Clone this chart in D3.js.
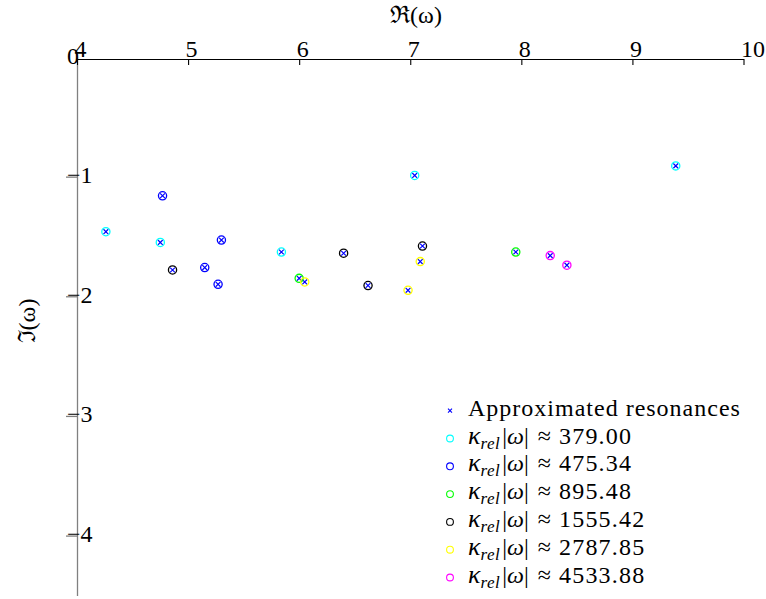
<!DOCTYPE html>
<html>
<head>
<meta charset="utf-8">
<script src="https://cdn.jsdelivr.net/npm/d3@7"></script>
<style>
  html, body { margin: 0; padding: 0; background: #fff; }
  svg { display: block; }
  text { font-family: "Liberation Serif", "DejaVu Serif", serif; fill: #000; }
</style>
</head>
<body>
<svg id="chart" width="766" height="599"></svg>
<script>
// ---- data ----
const xTicks = [4, 5, 6, 7, 8, 9, 10];
const yTicks = [0, -1, -2, -3, -4];

// Approximated resonances (blue x markers)
const approxRe = [4.26, 4.77, 4.75, 5.30, 4.86, 5.15, 5.27, 5.84, 6.00, 6.05, 6.40, 7.04, 7.11, 7.09, 6.62, 6.98, 9.39, 7.95, 8.26, 8.41];
const approxIm = [-1.46, -1.16, -1.55, -1.53, -1.78, -1.76, -1.90, -1.63, -1.85, -1.88, -1.64, -0.99, -1.58, -1.71, -1.91, -1.95, -0.91, -1.63, -1.66, -1.74];

// circle series, one per kappa value
const kappaLabels = ["379.00", "475.34", "895.48", "1555.42", "2787.85", "4533.88"];
const kappaColors = ["#00ffff", "#0000ff", "#00ff00", "#000000", "#ffff00", "#ff00ff"];
const re379 = [4.26, 4.75, 5.84, 7.04, 9.39];
const im379 = [-1.46, -1.55, -1.63, -0.99, -0.91];
const re475 = [4.77, 5.30, 5.15, 5.27];
const im475 = [-1.16, -1.53, -1.76, -1.90];
const re895 = [6.00, 7.95];
const im895 = [-1.85, -1.63];
const re1555 = [4.86, 6.40, 7.11, 6.62];
const im1555 = [-1.78, -1.64, -1.58, -1.91];
const re2787 = [6.05, 7.09, 6.98];
const im2787 = [-1.88, -1.71, -1.95];
const re4533 = [8.26, 8.41];
const im4533 = [-1.66, -1.74];

const seriesRe = [re379, re475, re895, re1555, re2787, re4533];
const seriesIm = [im379, im475, im895, im1555, im2787, im4533];

// ---- drawing ----
const FONT = '"Liberation Serif", "DejaVu Serif", serif';
const FS = 24;
const svg = d3.select("#chart");
const x = d3.scaleLinear().domain([4, 10]).range([77, 743.5]);
const y = d3.scaleLinear().domain([0, -4.5]).range([57, 595.4]);
const intFmt = d3.format("d");

// y axis (gray)
const yAx = svg.append("g").attr("transform", `translate(${x(4)},0)`)
  .call(d3.axisLeft(y).tickValues(yTicks).tickFormat(intFmt).tickSize(11).tickSizeOuter(0));
yAx.attr("font-family", FONT);
yAx.select(".domain").attr("stroke", "#808080").attr("stroke-width", 1.3);
yAx.selectAll(".tick line").attr("stroke", "#808080").attr("stroke-width", 1.3)
  .filter(d => d === 0).remove();
yAx.selectAll(".tick text")
  .attr("x", -10).attr("dy", 0).attr("y", 6)
  .attr("text-anchor", "start")
  .style("font-family", FONT)
  .style("font-size", FS + "px").attr("fill", "#000");

// x axis (black) at top
const xAx = svg.append("g").attr("transform", `translate(0,${y(0) + 2})`)
  .call(d3.axisBottom(x).tickValues(xTicks).tickFormat(intFmt).tickSize(6).tickSizeOuter(0));
xAx.attr("font-family", FONT);
xAx.select(".domain").attr("stroke", "#000").attr("stroke-width", 1.1);
xAx.selectAll(".tick line").attr("stroke", "#000").attr("stroke-width", 1.1);
xAx.selectAll(".tick text")
  .attr("x", -3).attr("y", -2).attr("dy", 0)
  .attr("text-anchor", "start")
  .style("font-family", FONT)
  .style("font-size", FS + "px").attr("fill", "#000");

// axis labels
svg.append("text").attr("x", 416).attr("y", 23).attr("text-anchor", "middle")
  .style("font-family", FONT).style("font-size", FS + "px").text("\u211C(\u03C9)");
svg.append("text").attr("transform", "translate(35,321) rotate(-90)")
  .attr("text-anchor", "middle").style("font-family", FONT)
  .style("font-size", FS + "px").text("\u2111(\u03C9)");

// marker helpers
function crossPath(s) { return `M${-s},${-s}L${s},${s}M${-s},${s}L${s},${-s}`; }

// approximated resonances
svg.append("g").selectAll("path").data(approxRe.map((r, i) => [r, approxIm[i]]))
  .join("path")
  .attr("transform", d => `translate(${x(d[0])},${y(d[1])})`)
  .attr("d", crossPath(2.4))
  .attr("stroke", "#0000ff").attr("stroke-width", 1.2).attr("fill", "none");

// circle series
seriesRe.forEach((res, si) => {
  svg.append("g").selectAll("circle").data(res.map((r, i) => [r, seriesIm[si][i]]))
    .join("circle")
    .attr("cx", d => x(d[0])).attr("cy", d => y(d[1])).attr("r", 4.1)
    .attr("fill", "none").attr("stroke", kappaColors[si]).attr("stroke-width", 1.3);
});

// legend
const lx = 450, ly0 = 410.7, ldy = 27.8, tx = 468;
const leg = svg.append("g");
leg.append("path").attr("transform", `translate(${lx},${ly0})`).attr("d", crossPath(2))
  .attr("stroke", "#0000ff").attr("stroke-width", 1.1).attr("fill", "none");
leg.append("text").attr("x", tx).attr("y", ly0 + 5)
  .style("font-family", FONT).style("font-size", FS + "px")
  .style("letter-spacing", "1px").text("Approximated resonances");
kappaLabels.forEach((lab, i) => {
  const cy = ly0 + ldy * (i + 1);
  leg.append("circle").attr("cx", lx).attr("cy", cy).attr("r", 3.4)
    .attr("fill", "none").attr("stroke", kappaColors[i]).attr("stroke-width", 1.1);
  const t = leg.append("text").attr("x", tx).attr("y", cy + 5)
    .style("font-family", FONT).style("font-size", FS + "px");
  t.append("tspan").style("font-style", "italic").style("font-size", "26px").text("\u03BA");
  t.append("tspan").style("font-style", "italic").style("font-size", "17px")
    .style("letter-spacing", "0.5px").attr("dy", 5).text("rel");
  t.append("tspan").attr("dy", -5).attr("dx", 2).text("|");
  t.append("tspan").style("font-style", "italic").text("\u03C9");
  t.append("tspan").text("|");
  t.append("tspan").attr("dx", 9).text("\u2248");
  t.append("tspan").attr("dx", 8).style("letter-spacing", "1.2px").text(lab);
});
</script>
</body>
</html>
